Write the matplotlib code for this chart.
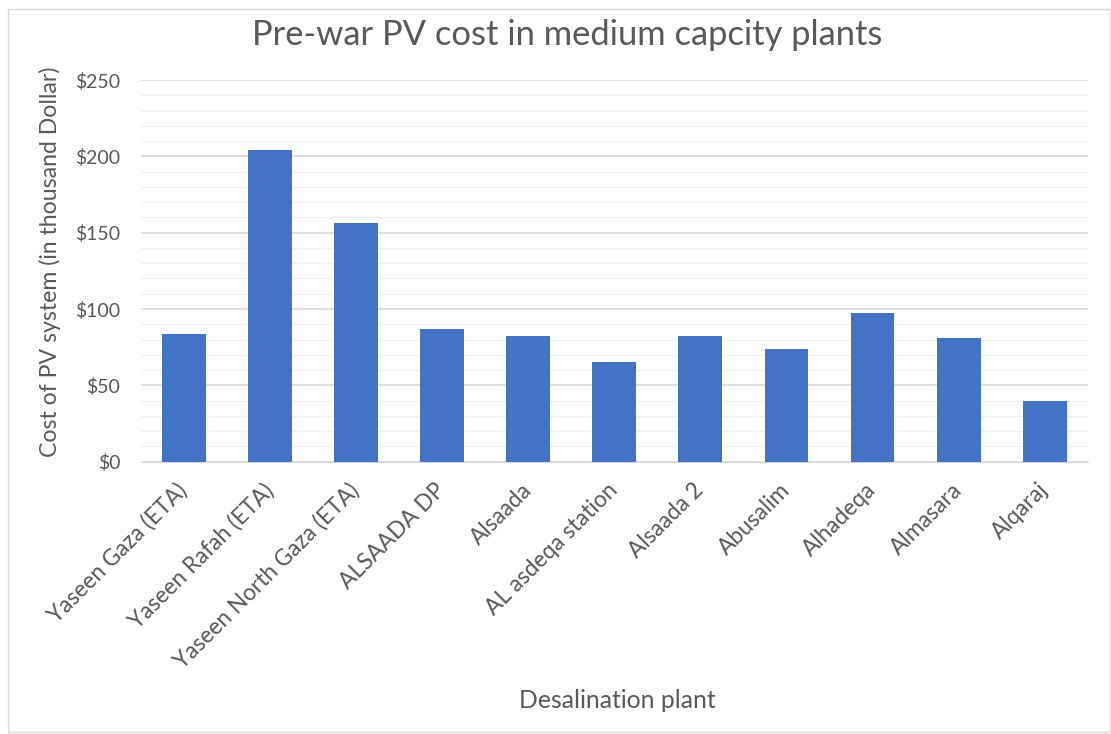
import matplotlib
matplotlib.use("Agg")
import matplotlib.pyplot as plt
from matplotlib.ticker import MultipleLocator, FuncFormatter
from matplotlib.patches import Rectangle

plants = ["Yaseen Gaza (ETA)", "Yaseen Rafah (ETA)", "Yaseen North Gaza (ETA)",
          "ALSAADA DP", "Alsaada", "AL asdeqa station", "Alsaada 2", "Abusalim",
          "Alhadeqa", "Almasara", "Alqaraj"]
costs = [83.5, 204, 156.5, 87, 82, 65.5, 82, 73.5, 97.5, 81, 40]

title = "Pre-war PV cost in medium capcity plants"
xlabel = "Desalination plant"
ylabel = "Cost of PV system (in thousand Dollar)"

FONT = ['Lato', 'DejaVu Sans']
plt.rcParams['font.family'] = FONT
txt = '#595959'

fig = plt.figure(figsize=(11.11, 7.34), dpi=100)
renderer = fig.canvas.get_renderer()


def fit_size(s, target_px, base=12):
    t = fig.text(0, 0, s, fontsize=base)
    w = t.get_window_extent(renderer).width
    t.remove()
    return base * target_px / w


ax = fig.add_axes([0.127, 0.371, 0.852, 0.520])

x = range(len(plants))
ax.bar(x, costs, width=0.51, color='#4472C4', zorder=3)
ax.set_xlim(-0.5, len(plants) - 0.5)
ax.set_ylim(0, 250)
ax.yaxis.set_major_locator(MultipleLocator(50))
ax.yaxis.set_minor_locator(MultipleLocator(10))
ax.yaxis.set_major_formatter(FuncFormatter(lambda v, p: f"${v:.0f}"))
ax.grid(axis='y', which='major', color='#d9d9d9', linewidth=1.2, zorder=0)
ax.grid(axis='y', which='minor', color='#f0f0f0', linewidth=1.0, zorder=0)
for s in ['top', 'right', 'left']:
    ax.spines[s].set_visible(False)
ax.spines['bottom'].set_color('#d9d9d9')

ytick_fs = fit_size("$250", 45)
xtick_fs = fit_size(plants[0], 186)
ax.tick_params(axis='both', which='both', length=0, colors=txt)
ax.tick_params(axis='y', pad=15, labelsize=ytick_fs)
ax.set_xticks(list(x))
ax.set_xticklabels(plants, rotation=45, ha='right', va='center',
                   rotation_mode='anchor', color=txt, fontsize=xtick_fs)
ax.tick_params(axis='x', pad=18)

fig.text(567 / 1111, 1 - 35 / 734, title, ha='center', va='center',
         fontsize=fit_size(title, 628), color=txt)
fig.text(50 / 1111, 1 - 262 / 734, ylabel, ha='center', va='center', rotation=90,
         fontsize=fit_size(ylabel, 387), color=txt)
fig.text(617 / 1111, 1 - 700 / 734, xlabel, ha='center', va='center',
         fontsize=fit_size(xlabel, 196), color=txt)

fig.patches.append(Rectangle((0.007, 0.003), 0.992, 0.985, transform=fig.transFigure,
                             fill=False, edgecolor='#d9d9d9', linewidth=1))

fig.savefig("out.png", dpi=100, facecolor='white')
